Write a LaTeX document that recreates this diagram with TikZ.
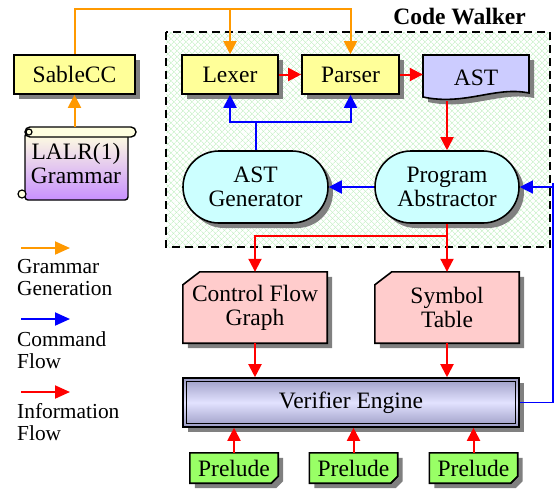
\documentclass[tikz,border=0pt]{standalone}
\usepackage{fontspec}
\setmainfont{Liberation Serif}
\usetikzlibrary{arrows.meta,positioning,calc,shapes.misc,shadows,patterns.meta}

\definecolor{grammarorange}{HTML}{FF9900}
\definecolor{cmdblue}{HTML}{0000FF}
\definecolor{infored}{HTML}{FF0000}
\definecolor{boxyellow}{HTML}{FFFF99}
\definecolor{astlilac}{HTML}{CCCCFF}
\definecolor{abscyan}{HTML}{CCFFFF}
\definecolor{cardpink}{HTML}{FFCCCC}
\definecolor{preludegreen}{HTML}{99FF66}
\definecolor{shadowgray}{HTML}{808080}
\definecolor{walkgreen}{HTML}{BDEFBD}
\definecolor{verifdark}{HTML}{9C9CC4}
\definecolor{veriflight}{HTML}{E2E2FF}
\definecolor{scrolltop}{HTML}{FFFFE0}
\definecolor{scrollbot}{HTML}{C890FF}

\pgfdeclarelayer{paper}
\pgfdeclarelayer{outlines}
\pgfsetlayers{paper,outlines,main}

\newcommand{\bigtext}{\fontsize{23.5}{24}\selectfont}
\newcommand{\legtext}{\fontsize{21.4}{22}\selectfont}
\newcommand{\astoutline}{(423,55) -- (529,55) -- (529,93) .. controls (495,86) and (465,106) .. (423,97) -- cycle}
% card with cut top left corner, #2 = shadow offset
\newcommand{\cardoutline}[2]{($(#1.north west)+(#2,#2+13)$) -- ($(#1.north west)+(#2+17,#2)$) -- ($(#1.north east)+(#2,#2)$) -- ($(#1.south east)+(#2,#2)$) -- ($(#1.south west)+(#2,#2)$) -- cycle}
% note with folded bottom right corner
\newcommand{\noteoutline}[2]{($(#1.north west)+(#2,#2)$) -- ($(#1.north east)+(#2,#2)$) -- ($(#1.south east)+(#2,#2-7)$) -- ($(#1.south east)+(#2-7,#2)$) -- ($(#1.south west)+(#2,#2)$) -- cycle}

\tikzset{
	boxshadow/.style={drop shadow={shadow xshift=5pt,shadow yshift=-5pt,fill=shadowgray,opacity=1}},
	basebox/.style={draw, line width=1.6pt, font=\bigtext, inner sep=0pt, align=center},
	toolbox/.style={basebox, rectangle, fill=boxyellow, minimum height=39pt, boxshadow},
	stadium/.style={basebox, rounded rectangle, fill=abscyan, minimum width=145pt, minimum height=72pt, boxshadow},
	card/.style={rectangle, font=\bigtext, inner sep=0pt, align=center, minimum width=144pt, minimum height=71pt},
	verbar/.style={basebox, rectangle, minimum width=336pt, minimum height=49pt,
		top color=verifdark, bottom color=verifdark, middle color=veriflight, boxshadow},
	notebox/.style={rectangle, font=\bigtext, inner sep=0pt, minimum width=88pt, minimum height=30pt},
	outline/.style={line width=1.6pt, line join=miter},
	gram/.style={grammarorange, line width=2pt, -{Triangle[length=13pt,width=13pt]}},
	cmd/.style={cmdblue, line width=2pt, -{Triangle[length=13pt,width=13pt]}},
	info/.style={infored, line width=2pt, -{Triangle[length=13pt,width=13pt]}},
	legarrow/.style={line width=2pt, -{Triangle[length=15pt,width=13pt]}},
	walker/.style={line width=1.6pt, dash pattern=on 8pt off 5pt},
}

\begin{document}
\begin{tikzpicture}[x=1pt,y=-1pt]
	\useasboundingbox (0,0) rectangle (554,491);
	\begin{pgfonlayer}{paper}
		\fill[white] (0,0) rectangle (554,491);
	\end{pgfonlayer}

	% code walker area
	\fill[pattern={Lines[angle=45,distance=4pt,line width=0.6pt]}, pattern color=walkgreen] (166,32) rectangle (550,247);
	\fill[pattern={Lines[angle=-45,distance=4pt,line width=0.6pt]}, pattern color=walkgreen] (166,32) rectangle (550,247);
	\draw[walker] (166,32) rectangle (550,247);
	\node[font=\bigtext\bfseries, anchor=base east, inner sep=0pt] (walkertitle) at (526,24) {Code Walker};

	% tools
	\node[toolbox, minimum width=121pt]	(sablecc)	at (74.5,74.5)	{SableCC};
	\node[toolbox, minimum width=96pt]	(lexer)		at (230,74.5)	{Lexer};
	\node[toolbox, minimum width=97pt]	(parser)	at (350.5,74.5)	{Parser};

	% AST document
	\fill[shadowgray, shift={(5,5)}] \astoutline;
	\filldraw[fill=astlilac, line width=1.6pt] \astoutline;
	\node[font=\bigtext, minimum width=106pt, minimum height=46pt, inner sep=0pt] (ast) at (476,78) {AST};

	\node[stadium]						(astgen)	at (255.5,187)	{AST\\Generator};
	\node[stadium, minimum width=144pt]	(absprog)	at (447,187)	{Program\\Abstractor};
	\node[card]	(cfg)		at (255,307.5)	{Control Flow\\Graph};
	\node[card]	(symtab)	at (447,307.5)	{Symbol\\Table};
	\node[verbar]	(verifier)	at (351,402.5)	{Verifier Engine};
	\draw[line width=0.8pt] ($(verifier.north west)+(4,4)$) rectangle ($(verifier.south east)+(-4,-4)$);

	\node[notebox]	(prelude1)	at (234,468)	{Prelude};
	\node[notebox]	(prelude2)	at (353.5,468)	{Prelude};
	\node[notebox]	(prelude3)	at (473.5,468)	{Prelude};

	\begin{pgfonlayer}{outlines}
		\foreach \card in {cfg,symtab} {
			\fill[shadowgray] \cardoutline{\card}{5};
			\filldraw[outline, fill=cardpink] \cardoutline{\card}{0};
		}
		\foreach \note in {prelude1,prelude2,prelude3} {
			\fill[shadowgray] \noteoutline{\note}{5};
			\filldraw[outline, fill=preludegreen] \noteoutline{\note}{0};
			\draw[line width=1.2pt] ($(\note.south east)+(0,-7)$) -- ($(\note.south east)+(-4,-3)$) -- ($(\note.south east)+(-7,0)$);
		}
	\end{pgfonlayer}

	% grammar scroll
	\shade[top color=scrolltop, bottom color=scrollbot, draw, line width=1.4pt, rounded corners=3pt] (25,133) rectangle (128,200);
	\filldraw[fill=scrolltop, line width=1.4pt, rounded corners=5pt] (25,127) rectangle (136,137);
	\filldraw[fill=scrolltop, line width=1.2pt] (29,132) circle (3pt);
	\filldraw[fill=scrolltop, line width=1.2pt] (22,194) circle (4pt);
	\node[font=\bigtext, align=center, inner sep=0pt, minimum width=102pt, minimum height=73pt] (grammar) at (76,163.5) {LALR(1)\\Grammar};

	% grammar generation
	\coordinate (gramtop) at (76,9);
	\draw[gram] (sablecc.south |- grammar.north) -- (sablecc.south);
	\draw[gram] (sablecc.north) |- (parser.north |- gramtop) -- (parser.north);
	\draw[gram] (lexer.north |- gramtop) -- (lexer.north);

	% command flow
	\coordinate (cmdjoin) at (255.5,122);
	\coordinate (cmdback) at (553,183);
	\draw[cmd] (astgen.north) -- (cmdjoin) -| (lexer.south);
	\draw[cmd] (cmdjoin) -| (parser.south);
	\draw[cmd] (absprog.west) -- (astgen.east);
	\draw[cmd, line width=1.3pt] (verifier.east) -| (cmdback) |- (absprog.east);

	% information flow
	\coordinate (infojoin) at (447,236);
	\draw[info] (lexer.east) -- (parser.west);
	\draw[info] (parser.east) -- (parser.east -| ast.west);
	\draw[info] (absprog.north |- ast.south) -- (absprog.north);
	\draw[info] (absprog.south) -- (symtab.north);
	\draw[info] (infojoin) -| (cfg.north);
	\draw[info] (cfg.south) -- (cfg.south |- verifier.north);
	\draw[info] (symtab.south) -- (symtab.south |- verifier.north);
	\draw[info] (prelude1.north) -- (prelude1.north |- verifier.south);
	\draw[info] (prelude2.north) -- (prelude2.north |- verifier.south);
	\draw[info] (prelude3.north) -- (prelude3.north |- verifier.south);

	% legend
	\coordinate (leggramfrom)	at (21,248);	\coordinate (leggramto)	at (70,248);
	\coordinate (legcmdfrom)	at (21,319);	\coordinate (legcmdto)	at (70,319);
	\coordinate (leginfofrom)	at (21,392);	\coordinate (leginfoto)	at (70,392);
	\draw[legarrow, grammarorange] (leggramfrom) -- (leggramto);
	\draw[legarrow, cmdblue] (legcmdfrom) -- (legcmdto);
	\draw[legarrow, infored] (leginfofrom) -- (leginfoto);
	\node[font=\legtext, align=left, anchor=west, inner sep=0pt] (leggram)	at (17,278)	{Grammar\\Generation};
	\node[font=\legtext, align=left, anchor=west, inner sep=0pt] (legcmd)	at (17,350)	{Command\\Flow};
	\node[font=\legtext, align=left, anchor=west, inner sep=0pt] (leginfo)	at (17,422)	{Information\\Flow};
\end{tikzpicture}
\end{document}
